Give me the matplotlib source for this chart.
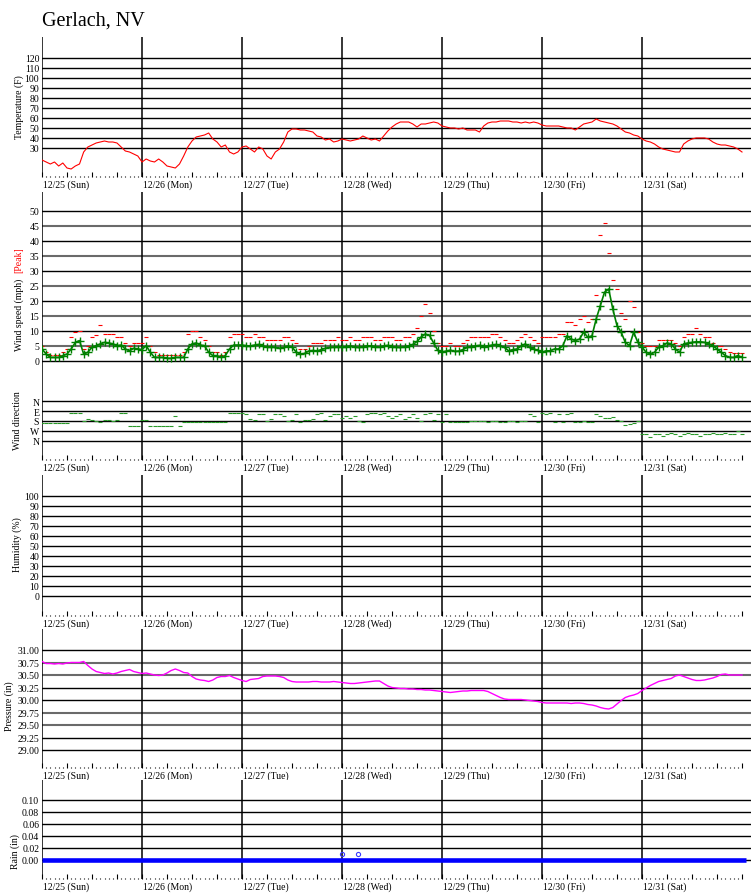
import matplotlib
matplotlib.use('Agg')
import matplotlib.pyplot as plt
import numpy as np

plt.rcParams['font.family'] = ['Liberation Serif', 'DejaVu Serif']

# --- data (hourly readings, 12/25 00:00 .. 12/31 24:00) ---
day_labels = ['12/25 (Sun)', '12/26 (Mon)', '12/27 (Tue)', '12/28 (Wed)',
              '12/29 (Thu)', '12/30 (Fri)', '12/31 (Sat)']

temp_f = [18, 16, 14, 16, 12, 15, 10, 9, 12, 14, 26, 31, 33, 35, 36, 37, 36, 36, 35, 31, 27, 26, 24, 22,
          16, 19, 17, 16, 19, 16, 12, 11, 10, 14, 22, 31, 37, 41, 42, 43, 45, 39, 36, 31, 33, 26, 24, 26,
          31, 32, 29, 26, 31, 29, 22, 19, 26, 29, 36, 46, 49, 49, 48, 48, 47, 46, 42, 41, 38, 39, 36, 37,
          39, 38, 37, 38, 39, 42, 40, 38, 39, 37, 42, 47, 51, 54, 56, 56, 56, 54, 51, 54, 54, 55, 56, 55,
          52, 51, 50, 50, 49, 50, 48, 48, 48, 46, 52, 55, 56, 56, 57, 57, 57, 56, 56, 55, 56, 55, 56, 55,
          53, 52, 52, 52, 52, 51, 50, 50, 48, 51, 54, 55, 56, 59, 57, 56, 55, 54, 52, 49, 46, 45, 43, 42,
          39, 37, 36, 34, 31, 29, 28, 27, 26, 26, 34, 37, 39, 40, 40, 40, 39, 36, 34, 33, 33, 32, 31, 29, 26]

wind_avg = [4, 2.3, 1.2, 1.2, 1.2, 1.8, 2.3, 4, 6.2, 6.8, 2.3, 2.9, 4.6, 5.1, 5.7, 6.2, 6, 5.7, 5.1, 5.3, 4, 3.4, 4.2, 4,
            3.8, 5.1, 2.9, 1.2, 1.2, 1.2, 0.9, 0.9, 1.2, 1.2, 1.2, 4, 5.7, 6, 5.3, 5.1, 2.9, 1.8, 1.8, 1.2, 1.8, 4, 5.3, 5.3,
            5.3, 5.1, 5, 5.3, 5.5, 5, 4.6, 4.8, 4.5, 4.2, 4.5, 5, 4.6, 3, 2.3, 2.5, 3.3, 3.5, 3.3, 3.8, 4.2, 4.5, 4.6, 4.8,
            4.6, 4.8, 5, 4.7, 4.5, 4.8, 5, 5, 4.8, 4.6, 5, 5.2, 4.8, 4.6, 4.5, 4.8, 5, 5.5, 6.5, 8, 9, 8.5, 6, 3.5,
            3, 3.3, 3.6, 3.2, 3.3, 3.8, 4.5, 4.8, 5, 5.2, 4.8, 5, 5.3, 5.5, 5.1, 4.5, 3.4, 3.8, 4, 5, 5.7, 4.5, 4, 3.5,
            2.9, 3.4, 3.4, 4, 4, 5.1, 8.4, 7.3, 6.8, 7.3, 9.6, 7.9, 8.4, 14, 18.4, 22.9, 24, 17.3, 11.8, 9.6, 6.2, 5.1, 9.6, 6.2,
            4.6, 2.9, 2.3, 2.9, 4.6, 5.1, 6, 5.7, 4, 2.9, 5.7, 6, 6.2, 6.4, 6.4, 6.2, 5.7, 5.1, 4, 2.9, 1.8, 1.2, 1.2, 1.8, 1.2]

wind_peak = [5, 3, 2, 2, 2, 3, 4, 8, 9.5, 10, 4, 5, 8, 8.5, 12, 9, 9, 9, 8, 8, 6, 5, 6, 6,
             6, 8, 5, 3, 2, 2, 2, 2, 2, 2, 3, 9, 10, 10, 8, 7, 5, 3, 3, 2, 3, 8, 9, 9,
             9, 8, 8, 9, 8, 8, 7, 7, 7, 7, 8, 8, 7, 6, 4, 4, 5, 6, 6, 6, 7, 7, 7, 8,
             7, 7, 8, 7, 7, 8, 8, 8, 7, 7, 8, 8, 8, 7, 7, 8, 8, 9, 11, 15, 19, 16, 10, 6,
             5, 5, 6, 5, 5, 6, 7, 8, 8, 8, 8, 8, 9, 9, 8, 7, 6, 6, 7, 8, 9, 8, 7, 6,
             8, 8, 8, 8, 9, 9, 13, 13, 12, 14, 15, 13, 14, 22, 42, 46, 36, 27, 24, 16, 14, 20, 18, 9.6,
             6, 5, 5, 5, 7, 7, 7, 7, 6, 5, 8, 9, 9, 11, 9, 8, 8, 6, 5, 5, 4, 3, 2.5, 2.5, 2.5]

# wind direction: 0=N, 1=E, 2=S, 3=W, 4=N
wind_dir = [2.2, 2.2, 2.2, 2.2, 2.2, 2.2, 2.2, 1.2, 1.2, 1.2, 2.0, 1.8, 1.9, 2.0, 2.1, 1.9, 1.9, 2.0, 1.9, 1.2, 1.2, 2.5, 2.5, 2.5,
            1.9, 1.9, 2.5, 2.5, 2.5, 2.5, 2.5, 2.5, 1.5, 2.5, 2.1, 2.1, 2.1, 2.1, 2.1, 2.1, 2.1, 2.1, 2.1, 2.1, 2.1, 1.2, 1.2, 1.2,
            1.2, 1.3, 1.8, 1.9, 1.3, 1.3, 2.0, 1.8, 1.3, 1.3, 1.5, 2.0, 1.9, 1.3, 2.1, 1.9, 1.9, 1.8, 1.3, 1.2, 1.9, 1.5, 1.3, 1.3,
            1.7, 1.5, 1.7, 1.5, 2.0, 2.1, 1.3, 1.2, 1.2, 1.3, 1.2, 1.5, 1.7, 1.5, 1.3, 1.8, 1.6, 1.3, 1.7, 2.0, 1.3, 1.2, 1.9, 1.3,
            2.1, 1.3, 2.1, 2.1, 2.1, 2.1, 2.1, 2.0, 2.0, 2.0, 2.0, 2.1, 2.0, 2.0, 2.1, 2.1, 2.0, 2.0, 2.1, 2.0, 2.0, 1.3, 1.5, 2.1,
            1.2, 1.3, 1.2, 2.1, 1.3, 2.1, 1.3, 1.2, 2.1, 2.1, 2.0, 2.1, 2.1, 1.3, 1.5, 1.7, 1.7, 1.6, 1.9, 2.0, 2.4, 2.3, 2.2, 2.0,
            3.3, 3.3, 3.6, 3.3, 3.3, 3.5, 3.3, 3.2, 3.3, 3.5, 3.3, 3.2, 3.3, 3.3, 3.5, 3.3, 3.3, 3.2, 3.3, 3.3, 3.2, 3.3, 3.3, 3.0, 3.3]

pressure_in = [30.77, 30.73, 30.73, 30.72, 30.73, 30.72, 30.74, 30.75, 30.75, 30.75, 30.77, 30.69, 30.62, 30.57, 30.55, 30.53, 30.54, 30.52, 30.54, 30.57, 30.59, 30.61, 30.57, 30.55,
               30.53, 30.54, 30.52, 30.50, 30.49, 30.50, 30.54, 30.59, 30.62, 30.59, 30.55, 30.54, 30.47, 30.42, 30.40, 30.39, 30.37, 30.40, 30.45, 30.47, 30.47, 30.49, 30.45, 30.42,
               30.39, 30.37, 30.41, 30.42, 30.43, 30.47, 30.48, 30.48, 30.48, 30.47, 30.45, 30.40, 30.37, 30.36, 30.36, 30.36, 30.36, 30.37, 30.37, 30.36, 30.36, 30.36, 30.37, 30.36,
               30.35, 30.34, 30.33, 30.33, 30.34, 30.35, 30.36, 30.37, 30.38, 30.38, 30.33, 30.28, 30.25, 30.24, 30.23, 30.23, 30.22, 30.22, 30.21, 30.21, 30.20, 30.20, 30.19, 30.18,
               30.17, 30.16, 30.15, 30.16, 30.17, 30.18, 30.18, 30.19, 30.19, 30.19, 30.19, 30.17, 30.13, 30.09, 30.05, 30.02, 30.01, 30.01, 30.01, 30.01, 30.00, 29.99, 29.98, 29.97,
               29.95, 29.94, 29.94, 29.94, 29.94, 29.94, 29.94, 29.93, 29.94, 29.94, 29.93, 29.91, 29.90, 29.88, 29.85, 29.83, 29.82, 29.85, 29.92, 29.99, 30.05, 30.08, 30.10, 30.13,
               30.19, 30.24, 30.29, 30.33, 30.37, 30.39, 30.41, 30.43, 30.48, 30.50, 30.47, 30.44, 30.41, 30.39, 30.39, 30.40, 30.42, 30.44, 30.47, 30.51, 30.52, 30.50, 30.50, 30.50, 30.50]

rain_in = [0.0] * 170
rain_spot_days = [3.0, 3.16]
rain_spot_in = [0.01, 0.01]

hours = np.arange(len(temp_f)) / 24.0

# --- layout in pixels ---
W, H = 751, 895
LEFT = 42
XMAX = (W - LEFT) / 100.0
fig = plt.figure(figsize=(W / 100, H / 100), dpi=100)


def make_axes(top, bottom):
    return fig.add_axes([LEFT / W, 1 - bottom / H, (W - LEFT) / W, (bottom - top) / H])


def setup(ax, ylim, yticks, ylabels, gray=(), xaxis=True):
    ax.set_xlim(0, XMAX)
    ax.set_ylim(*ylim)
    for s in ax.spines.values():
        s.set_visible(False)
    ax.set_yticks(yticks)
    ax.set_yticklabels(ylabels)
    ax.tick_params(axis='y', length=0, pad=2, labelsize=7)
    for i, v in enumerate(yticks):
        if i in gray:
            ax.axhline(v, color='#6a6a6a', lw=1.5, zorder=1)
        else:
            ax.axhline(v, color='black', lw=1.0, zorder=1)
    for d in range(7):
        ax.axvline(d, color='black', lw=1.1, zorder=1)
    if xaxis:
        ax.set_xticks(np.arange(0, 7.01, 0.25))
        ax.set_xticks(np.arange(0, 7.001, 1 / 24.0), minor=True)
        ax.tick_params(axis='x', which='major', direction='in', length=3.6, width=0.8, labelbottom=False)
        ax.tick_params(axis='x', which='minor', direction='in', length=0.8, width=0.8)
        for d, lab in enumerate(day_labels):
            ax.annotate(lab, xy=(d, 0), xycoords=('data', 'axes fraction'), xytext=(1, -7),
                        textcoords='offset pixels', ha='left', va='center', fontsize=7)
    else:
        ax.set_xticks([])


def ylabel(x, y, text, color='black'):
    fig.text(x / W, 1 - y / H, text, rotation=90, ha='center', va='center', fontsize=7, color=color)


fig.text(LEFT / W, 1 - 26 / H, 'Gerlach, NV', fontsize=14.5, va='baseline', ha='left')

# temperature
ax = make_axes(38, 178)
setup(ax, (1, 141), list(range(30, 121, 10)), [str(v) for v in range(30, 121, 10)])
ax.plot(hours, temp_f, color='red', lw=0.8, zorder=3)
ylabel(19, 107, 'Temperature (F)')

# wind speed
ax = make_axes(193, 380)
setup(ax, (-6, 56.33), list(range(0, 51, 5)), [str(v) for v in range(0, 51, 5)],
      gray=(1, 3, 5, 7, 9), xaxis=False)
ax.plot(hours, wind_peak, ls='none', marker='_', ms=2.5, mew=0.8, color='red', zorder=3)
ax.plot(hours, wind_avg, color='green', lw=1.2, zorder=4)
ax.plot(hours, wind_avg, ls='none', marker='+', ms=5.5, mew=1, color='green', zorder=4)
ylabel(19, 315, 'Wind speed (mph)')
ylabel(19, 260, '[Peak]', color='red')

# wind direction
ax = make_axes(380, 461)
setup(ax, (5.9, -2.2), [0, 1, 2, 3, 4], ['N', 'E', 'S', 'W', 'N'])
ax.plot(hours, wind_dir, ls='none', marker='_', ms=3.5, mew=0.8, color='#2a9a2a', zorder=3)
ylabel(18, 421, 'Wind direction')

# humidity (no data)
ax = make_axes(476, 617)
setup(ax, (-20, 121), list(range(0, 101, 10)), [str(v) for v in range(0, 101, 10)])
ylabel(17, 545, 'Humidity (%)')

# pressure
ax = make_axes(630, 769)
pt = [29.00, 29.25, 29.50, 29.75, 30.00, 30.25, 30.50, 30.75, 31.00]
setup(ax, (28.64, 31.42), pt, ['%.2f' % v for v in pt], gray=(2, 3, 6, 7))
ax.plot(hours, pressure_in, color='#ff00ff', lw=1.0, zorder=3)
ylabel(9, 706, 'Pressure (in)')

# rain
ax = make_axes(781, 880)
rt = [0.00, 0.02, 0.04, 0.06, 0.08, 0.10]
setup(ax, (-0.0317, 0.1333), rt, ['%.2f' % v for v in rt])
ax.plot(np.arange(len(rain_in)) / 24.0, rain_in, color='blue', lw=3.3, zorder=3, solid_capstyle='butt')
ax.plot(rain_spot_days, rain_spot_in, ls='none', marker='o', ms=3, mfc='none', mec='#3a3aff', mew=0.8, zorder=3)
ylabel(15, 852, 'Rain (in)')

fig.savefig('out.png', dpi=100)
